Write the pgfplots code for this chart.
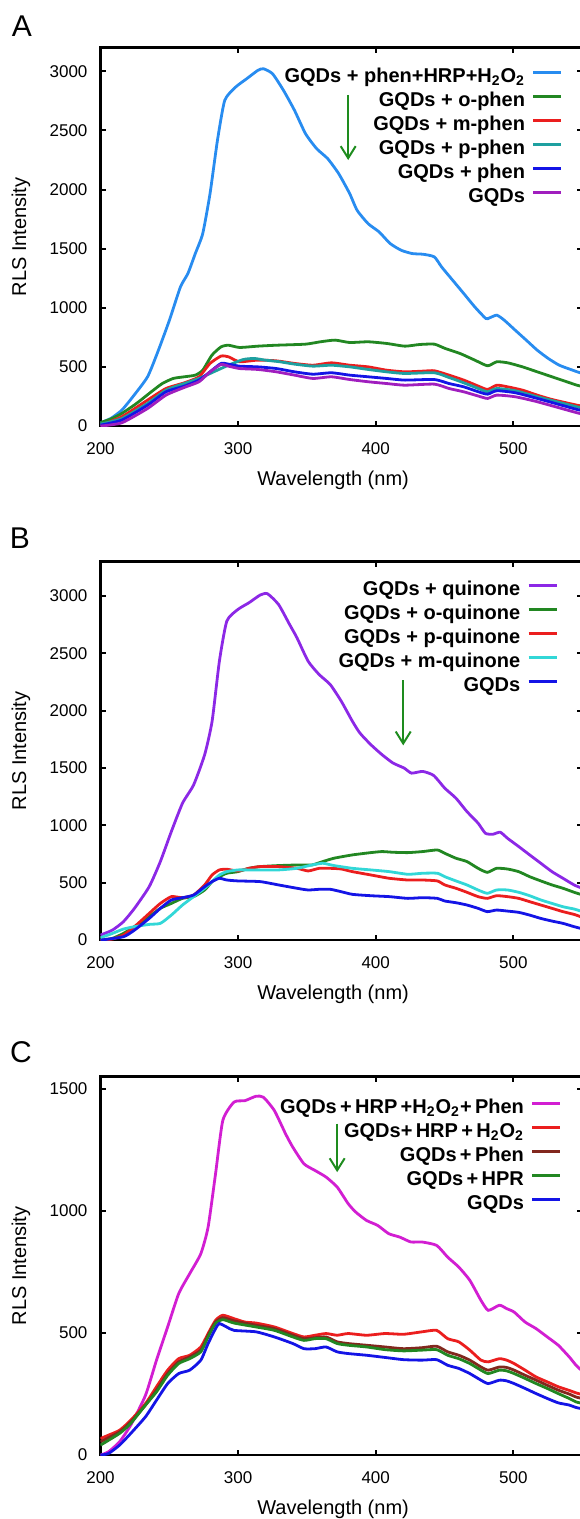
\documentclass[border=0pt]{standalone}
\usepackage{fontspec}
\setmainfont{Liberation Sans}
\usepackage{pgfplots}
\pgfplotsset{compat=1.18}
\usetikzlibrary{arrows.meta}

\definecolor{cA1}{RGB}{40,140,240}
\definecolor{cGreen}{RGB}{34,135,34}
\definecolor{cRed}{RGB}{235,30,30}
\definecolor{cTeal}{RGB}{30,160,160}
\definecolor{cBlue}{RGB}{20,20,230}
\definecolor{cPurple}{RGB}{160,30,190}
\definecolor{cViolet}{RGB}{140,40,230}
\definecolor{cCyan}{RGB}{50,215,215}
\definecolor{cMagenta}{RGB}{210,30,210}
\definecolor{cBrown}{RGB}{130,40,30}
\definecolor{cArrow}{RGB}{30,140,30}

\pgfplotsset{
  rls/.style={
    scale only axis, width=240.8pt, height=189.2pt,
    xmin=200, xmax=550, ymin=0,
    xtick={200,300,400,500},
    tick align=inside,
    major tick length=2.5pt,
    axis line style={line width=1.3pt},
    tick style={line width=1pt, black},
    tick label style={font=\fontsize{8.5}{10}\selectfont},
    /pgf/number format/assume math mode=true,
    /pgf/number format/1000 sep={},
    scaled ticks=false,
    xticklabel style={yshift=-4.5pt},
    yticklabel style={xshift=-3pt},
    label style={font=\fontsize{10.5}{12}\selectfont, text=black!80},
    xlabel={Wavelength (nm)},
    ylabel={RLS Intensity},
    every axis x label/.style={at={(axis description cs:0.483,-0.143)}, anchor=center},
    every axis y label/.style={at={(axis description cs:-0.165,0.5)}, anchor=center, rotate=90},
    legend plot pos=right,
    legend cell align=right,
    legend image code/.code={\draw[#1] (0pt,2.6pt) -- (14pt,2.6pt);},
    legend style={draw=none, fill=none, inner sep=0pt, outer sep=0pt, anchor=north east,
       font=\bfseries\fontsize{10}{12}\selectfont,
       nodes={inner sep=0pt, text height=7pt, text depth=2.2pt},
       row sep=2.8pt, column sep=3.5pt},
    every axis plot/.append style={line width=1.4pt, smooth, tension=0.35},
  }
}

\begin{document}
\begin{tikzpicture}
% ---------------- Panel A ----------------
\begin{axis}[rls, at={(50.25pt,-23.85pt)}, anchor=north west,
  ymax=3200, ytick={0,500,1000,1500,2000,2500,3000},
  legend style={at={(axis description cs:0.960,0.944)}}]
\addplot[cA1] coordinates {(200,28)(207.5,65)(215.5,135)(223.5,248)(234.2,417)(242.1,642)(250.1,896)(258.1,1177)(263.5,1290)(268.9,1459)(274.3,1628)(279.6,1966)(285,2417)(290.3,2755)(298.3,2868)(306.3,2938)(314.3,3008)(318.4,3022)(325,2980)(333,2839)(341,2670)(349,2473)(357.1,2346)(365.1,2262)(373.1,2135)(381.1,1966)(386.5,1825)(394.5,1712)(402.5,1642)(410.5,1544)(418.5,1487)(426.6,1459)(434.6,1453)(442.6,1431)(447.9,1346)(455.9,1234)(464,1121)(472,1008)(480,910)(482.7,915)(488,938)(493.4,896)(501.4,811)(509.4,727)(517.4,642)(525.4,572)(533.4,515)(541.4,480)(546.2,460)(550,445)};
\addlegendentry{GQDs + phen+HRP+H\textsubscript{2}O\textsubscript{2}}
\addplot[cGreen] coordinates {(200,30)(207.5,60)(215.5,107)(226.2,192)(236.9,290)(244.9,360)(252.9,403)(260.9,417)(268.9,431)(274.3,473)(281,600)(287.6,670)(293,684)(301,665)(314.3,676)(327.7,684)(349,693)(359.8,713)(370.5,727)(381.1,707)(394.5,713)(407.9,699)(421.2,676)(431.9,690)(442.6,693)(450.6,656)(461.3,614)(472,558)(481.3,510)(488,544)(496,535)(506.7,501)(517.4,459)(528.1,417)(538.8,375)(546.2,346)(550,335)};
\addlegendentry{GQDs + o-phen}
\addplot[cRed] coordinates {(200,8)(215.5,79)(234.2,220)(247.6,318)(260.9,366)(271.6,417)(279.6,530)(287.6,592)(293,586)(301,544)(314.3,558)(327.7,552)(341,530)(354.4,515)(367.8,535)(381.1,515)(394.5,501)(407.9,473)(421.2,459)(434.6,465)(442.6,468)(453.3,431)(464,389)(474.6,338)(481.3,310)(488,346)(496,332)(506.7,304)(517.4,262)(528.1,225)(546.2,177)(550,170)};
\addlegendentry{GQDs + m-phen}
\addplot[cTeal] coordinates {(200,17)(215.5,64)(234.2,192)(247.6,304)(260.9,360)(271.6,403)(282.3,459)(293,515)(303.7,563)(311.7,572)(319.7,558)(330.4,544)(341,524)(354.4,507)(367.8,515)(381.1,501)(394.5,479)(407.9,459)(421.2,445)(442.6,451)(453.3,411)(464,366)(474.6,318)(481.3,290)(488,318)(501.4,299)(517.4,248)(546.2,163)(550,155)};
\addlegendentry{GQDs + p-phen}
\addplot[cBlue] coordinates {(200,8)(215.5,51)(234.2,177)(247.6,290)(260.9,338)(271.6,389)(279.6,459)(287.6,530)(293,524)(301,507)(314.3,501)(327.7,487)(341,459)(354.4,439)(367.8,451)(381.1,431)(394.5,417)(407.9,403)(421.2,389)(442.6,394)(453.3,360)(464,332)(474.6,290)(481.3,270)(488,299)(501.4,282)(517.4,234)(546.2,141)(550,133)};
\addlegendentry{GQDs + phen}
\addplot[cPurple] coordinates {(200,0)(215.5,28)(234.2,149)(247.6,262)(260.9,327)(271.6,375)(279.6,459)(287.6,521)(293,507)(301,487)(314.3,479)(327.7,459)(341,431)(354.4,403)(367.8,417)(381.1,394)(394.5,375)(407.9,360)(421.2,346)(442.6,355)(453.3,318)(464,290)(474.6,254)(481.3,234)(488,262)(501.4,248)(517.4,206)(546.2,113)(550,105)};
\addlegendentry{GQDs}
\draw[cArrow, line width=1pt, -{Straight Barb[length=6pt,width=7.5pt]}] (axis cs:380,2800) -- (axis cs:380,2250);
\end{axis}
% ---------------- Panel B ----------------
\begin{axis}[rls, at={(50.25pt,-280.85pt)}, anchor=north west,
  ymax=3300, ytick={0,500,1000,1500,2000,2500,3000},
  legend style={at={(axis description cs:0.950,0.9486)}}]
\addplot[cViolet] coordinates {(200,44)(208.6,87)(216.6,160)(224.7,277)(235.4,466)(243.5,685)(251.5,947)(259.6,1194)(267.7,1354)(275.7,1617)(281.1,1908)(286.4,2432)(291.8,2782)(299.9,2884)(307.9,2942)(316,3009)(321.3,3021)(329.4,2927)(337.4,2753)(342.8,2636)(350.9,2432)(358.9,2316)(367,2228)(375,2083)(383.1,1908)(388.5,1806)(396.5,1704)(404.6,1617)(412.6,1544)(420.7,1500)(426,1456)(434.1,1471)(442.1,1436)(450.2,1325)(458.3,1238)(466.3,1121)(474.4,1020)(479.7,932)(485.1,923)(490.5,941)(495.8,888)(503.9,816)(511.9,743)(520,670)(528.1,597)(536.1,539)(544.2,481)(549,457)(550,452)};
\addlegendentry{GQDs + quinone}
\addplot[cGreen] coordinates {(200,0)(208.6,15)(216.6,58)(224.7,117)(235.4,204)(243.5,277)(251.5,320)(259.6,364)(267.7,379)(275.7,437)(281.1,510)(286.4,553)(291.8,583)(299.9,597)(307.9,626)(316,641)(329.4,650)(342.8,655)(353.6,655)(361.6,685)(369.7,714)(383.1,743)(396.5,763)(404.6,772)(412.6,766)(423.4,763)(434.1,772)(444.8,786)(450.2,757)(458.3,714)(466.3,685)(474.4,626)(481.1,591)(487.8,626)(495.8,620)(503.9,597)(511.9,553)(520,516)(528.1,481)(536.1,452)(544.2,417)(549,399)(550,396)};
\addlegendentry{GQDs + o-quinone}
\addplot[cRed] coordinates {(200,0)(208.6,9)(216.6,44)(224.7,117)(235.4,233)(243.5,320)(251.5,379)(259.6,370)(267.7,393)(275.7,481)(281.1,568)(286.4,612)(291.8,618)(299.9,603)(307.9,626)(316,641)(329.4,641)(342.8,626)(350.9,603)(358.9,626)(367,626)(375,620)(383.1,597)(396.5,568)(409.9,539)(423.4,524)(434.1,524)(444.8,516)(450.2,481)(458.3,452)(466.3,417)(474.4,379)(481.1,364)(487.8,387)(495.8,379)(503.9,364)(511.9,335)(520,306)(528.1,277)(536.1,248)(544.2,224)(549,204)(550,200)};
\addlegendentry{GQDs + p-quinone}
\addplot[cCyan] coordinates {(200,20)(208.6,58)(216.6,96)(224.7,117)(235.4,137)(243.5,146)(251.5,218)(259.6,306)(267.7,379)(275.7,452)(281.1,510)(286.4,568)(291.8,597)(299.9,612)(307.9,612)(316,612)(329.4,612)(342.8,626)(353.6,655)(361.6,670)(369.7,650)(383.1,626)(396.5,612)(409.9,597)(423.4,574)(434.1,583)(444.8,583)(450.2,553)(458.3,516)(466.3,481)(474.4,437)(481.1,408)(487.8,437)(495.8,437)(503.9,417)(511.9,387)(520,350)(528.1,320)(536.1,291)(544.2,271)(549,253)(550,250)};
\addlegendentry{GQDs + m-quinone}
\addplot[cBlue] coordinates {(200,0)(216.6,29)(224.7,87)(235.4,189)(243.5,277)(251.5,350)(259.6,370)(267.7,393)(275.7,466)(281.1,510)(286.4,539)(291.8,524)(299.9,516)(316,510)(329.4,481)(342.8,452)(350.9,437)(358.9,443)(367,443)(375,422)(383.1,399)(396.5,387)(409.9,379)(423.4,364)(434.1,370)(444.8,364)(450.2,341)(458.3,326)(466.3,306)(474.4,277)(481.1,248)(487.8,262)(495.8,253)(503.9,242)(511.9,218)(520,189)(528.1,166)(536.1,146)(544.2,117)(549,102)(550,100)};
\addlegendentry{GQDs}
\draw[cArrow, line width=1pt, -{Straight Barb[length=6pt,width=7.5pt]}] (axis cs:420,2267) -- (axis cs:420,1698);
\end{axis}
% ---------------- Panel C ----------------
\begin{axis}[rls, at={(50.25pt,-538.35pt)}, anchor=north west,
  ymax=1550, ytick={0,500,1000,1500},
  legend style={at={(axis description cs:0.9577,0.9397)}}]
\addplot[cMagenta] coordinates {(200,0)(205.9,14)(213.9,55)(222,123)(232.7,245)(240.7,389)(248.8,525)(256.8,661)(264.8,743)(272.9,825)(278.2,934)(283.6,1152)(288.9,1371)(297,1446)(305,1452)(313,1470)(318.4,1466)(326.4,1411)(334.5,1316)(339.8,1261)(347.9,1193)(355.9,1166)(363.9,1139)(372,1098)(380,1030)(385.4,996)(393.4,961)(401.4,941)(409.5,907)(417.5,893)(425.6,873)(433.6,873)(444.3,859)(452.3,811)(460.4,770)(468.4,716)(476.5,634)(481.8,593)(489.9,614)(495.2,600)(500.6,586)(508.6,545)(516.6,518)(524.7,484)(532.7,450)(540.7,402)(545.6,368)(550,345)};
\addlegendentry{GQDs\,+\,HRP\,+H\textsubscript{2}O\textsubscript{2}+\,Phen}
\addplot[cRed] coordinates {(200,68)(205.9,82)(213.9,102)(222,143)(232.7,211)(240.7,280)(248.8,348)(256.8,395)(264.8,409)(272.9,443)(278.2,498)(283.6,552)(288.9,573)(297,559)(305,545)(313,541)(326.4,525)(339.8,498)(347.9,484)(355.9,491)(363.9,498)(372,491)(380,498)(393.4,491)(406.8,498)(420.2,495)(433.6,505)(444.3,511)(452.3,477)(460.4,464)(468.4,430)(476.5,389)(481.8,382)(489.9,395)(495.2,389)(500.6,375)(508.6,348)(516.6,320)(524.7,300)(532.7,280)(540.7,265)(545.6,255)(550,248)};
\addlegendentry{GQDs+\,HRP\,+\,H\textsubscript{2}O\textsubscript{2}}
\addplot[cBrown] coordinates {(200,55)(213.9,95)(222,136)(232.7,205)(240.7,266)(248.8,334)(256.8,382)(264.8,402)(272.9,430)(278.2,491)(283.6,545)(288.9,563)(297,550)(313,532)(326.4,518)(339.8,491)(347.9,477)(355.9,481)(363.9,484)(372,464)(380,457)(393.4,450)(406.8,443)(420.2,436)(433.6,440)(444.3,446)(452.3,423)(460.4,409)(468.4,389)(476.5,361)(481.8,348)(489.9,361)(495.2,359)(500.6,348)(508.6,327)(516.6,307)(524.7,286)(532.7,266)(540.7,250)(545.6,238)(550,232)};
\addlegendentry{GQDs\,+\,Phen}
\addplot[cGreen] coordinates {(200,41)(213.9,89)(222,130)(232.7,205)(240.7,259)(248.8,327)(256.8,375)(264.8,395)(272.9,423)(278.2,484)(283.6,539)(288.9,555)(297,541)(313,525)(326.4,511)(339.8,484)(347.9,470)(355.9,477)(363.9,477)(372,457)(380,450)(393.4,443)(406.8,432)(420.2,427)(433.6,430)(444.3,432)(452.3,409)(460.4,395)(468.4,375)(476.5,348)(481.8,334)(489.9,348)(495.2,345)(500.6,334)(508.6,314)(516.6,293)(524.7,273)(532.7,252)(540.7,232)(545.6,218)(550,212)};
\addlegendentry{GQDs\,+\,HPR}
\addplot[cBlue] coordinates {(200,0)(205.9,7)(213.9,41)(222,89)(232.7,157)(240.7,225)(248.8,293)(256.8,334)(264.8,348)(272.9,389)(278.2,457)(283.6,518)(286.3,539)(291.6,525)(297,511)(313,505)(326.4,484)(339.8,457)(347.9,436)(355.9,436)(363.9,443)(372,423)(380,416)(393.4,409)(406.8,400)(420.2,391)(433.6,389)(444.3,391)(452.3,368)(460.4,355)(468.4,334)(476.5,307)(481.8,293)(489.9,307)(495.2,304)(500.6,293)(508.6,273)(516.6,252)(524.7,232)(532.7,214)(540.7,205)(545.6,195)(550,190)};
\addlegendentry{GQDs}
\draw[cArrow, line width=1pt, -{Straight Barb[length=6pt,width=7.5pt]}] (axis cs:372,1358) -- (axis cs:372,1159);
\end{axis}
\node[font=\fontsize{15}{18}\selectfont] at (11pt,-13pt) {A};
\node[font=\fontsize{15}{18}\selectfont] at (10pt,-269pt) {B};
\node[font=\fontsize{15}{18}\selectfont] at (10.5pt,-526pt) {C};
\pgfresetboundingbox
\useasboundingbox (0,0) rectangle (289.5pt,-759.5pt);
\end{tikzpicture}
\end{document}
